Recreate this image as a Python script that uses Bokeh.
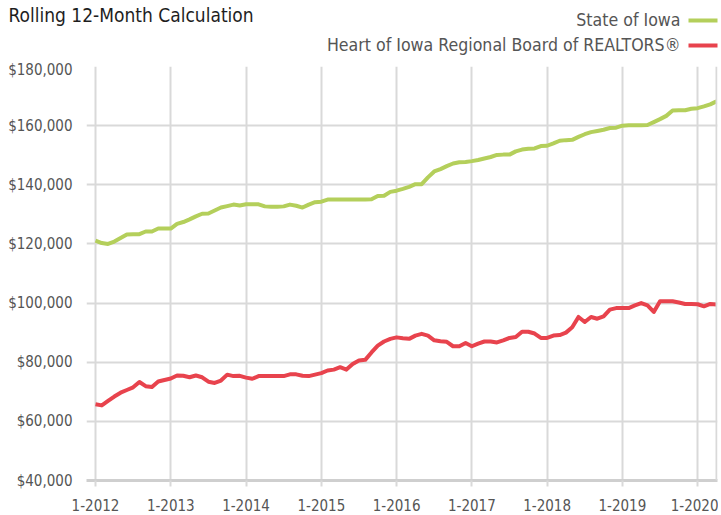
from bokeh.plotting import figure
from bokeh.layouts import column, row
from bokeh.models import FixedTicker, Span, NumeralTickFormatter, Range1d, Label
from bokeh.embed import file_html
from bokeh.resources import INLINE

# ---- data ----
tick_labels = ["1-2012", "1-2013", "1-2014", "1-2015", "1-2016", "1-2017", "1-2018", "1-2019", "1-2020"]
months = list(range(100))  # Jan 2012 .. Apr 2020

state_iowa = [
    121100, 120300, 120000, 120800, 122000, 123200, 123300, 123300, 124200, 124200,
    125200, 125200, 125200, 126800, 127400, 128300, 129300, 130200, 130300, 131300,
    132300, 132800, 133300, 133000, 133400, 133400, 133400, 132700, 132600, 132600,
    132700, 133300, 132900, 132300, 133300, 134100, 134300, 135000, 135000, 135000,
    135000, 135000, 135000, 135000, 135100, 136200, 136300, 137600, 138000, 138600,
    139300, 140200, 140200, 142500, 144500, 145300, 146300, 147200, 147600, 147700,
    148000, 148400, 148900, 149400, 150100, 150200, 150200, 151300, 151900, 152200,
    152300, 153100, 153200, 154000, 154900, 155100, 155200, 156200, 157100, 157800,
    158200, 158600, 159200, 159300, 160000, 160100, 160100, 160100, 160200, 161200,
    162200, 163300, 165100, 165200, 165200, 165700, 165900, 166500, 167200, 168200,
]

heart_of_iowa = [
    65800, 65400, 66900, 68400, 69700, 70600, 71500, 73300, 71900, 71600,
    73500, 74000, 74500, 75500, 75400, 74900, 75500, 74900, 73400, 73000,
    73800, 75800, 75300, 75400, 74800, 74400, 75300, 75300, 75300, 75300,
    75300, 75900, 75900, 75400, 75300, 75800, 76300, 77200, 77500, 78300,
    77500, 79400, 80600, 80800, 83300, 85600, 87000, 87900, 88400, 88100,
    87900, 89000, 89600, 89000, 87400, 87100, 86900, 85400, 85400, 86500,
    85400, 86300, 87000, 87000, 86700, 87400, 88200, 88500, 90300, 90300,
    89700, 88200, 88200, 89000, 89200, 90000, 91800, 95300, 93600, 95300,
    94700, 95500, 97800, 98300, 98300, 98300, 99200, 100000, 99200, 97000,
    100600, 100600, 100600, 100200, 99700, 99700, 99600, 98900, 99700, 99500,
]

series_names = ["State of Iowa", "Heart of Iowa Regional Board of REALTORS®"]
colors = ["#b4cf5b", "#e8434d"]
title_text = "Rolling 12-Month Calculation"

FONT = "DejaVu Sans Condensed"
GRID = "#d9d9d9"
TXT = "#555555"
W = 718
LEFT = 86
RIGHT = 1

# ---- header (title + legend); coordinates in page pixels ----
h = figure(width=W, height=60, output_backend="svg", toolbar_location=None,
           x_range=Range1d(0, W), y_range=Range1d(60, 0),
           min_border=0, min_border_left=0, min_border_right=0,
           min_border_top=0, min_border_bottom=0,
           x_axis_type=None, y_axis_type=None)
h.outline_line_color = None
h.grid.visible = False
h.add_layout(Label(x=8, y=14, text=title_text, text_font=FONT,
                   text_font_size="19px", text_color="#1e1e1e",
                   text_baseline="middle", text_align="left"))
for name, col, ly in zip(series_names, colors, [19.5, 44.5]):
    h.add_layout(Label(x=680, y=ly, text=name, text_font=FONT, text_font_size="17.6px",
                       text_color=TXT, text_baseline="middle", text_align="right"))
    h.line(x=[688, 717], y=[ly + 0.5, ly + 0.5], line_color=col, line_width=4)

# ---- main chart ----
p = figure(width=W, height=454, output_backend="svg", toolbar_location=None,
           x_range=Range1d(-1.435, 99.16), y_range=Range1d(40000, 180000),
           min_border_left=LEFT, min_border_right=RIGHT, min_border_top=6, min_border_bottom=34)
p.outline_line_color = None

p.line(months, state_iowa, line_color=colors[0], line_width=4, line_join="round")
p.line(months, heart_of_iowa, line_color=colors[1], line_width=4, line_join="round")

p.xaxis.ticker = FixedTicker(ticks=[12 * i for i in range(len(tick_labels))])
p.xaxis.major_label_overrides = {12 * i: lab for i, lab in enumerate(tick_labels)}
p.xaxis.axis_line_color = "#cfcfcf"
p.xaxis.axis_line_width = 3
p.xaxis.major_tick_line_color = GRID
p.xaxis.major_tick_line_width = 2
p.xaxis.major_tick_out = 6
p.xaxis.major_tick_in = 0
p.xaxis.minor_tick_line_color = None
p.xaxis.major_label_text_font = FONT
p.xaxis.major_label_text_font_size = "15px"
p.xaxis.major_label_text_color = TXT
p.xaxis.major_label_standoff = 12

p.yaxis.ticker = FixedTicker(ticks=list(range(40000, 180001, 20000)))
p.yaxis.formatter = NumeralTickFormatter(format="$0,0")
p.yaxis.axis_line_color = None
p.yaxis.major_tick_line_color = None
p.yaxis.major_tick_out = 0
p.yaxis.major_tick_in = 0
p.yaxis.minor_tick_line_color = None
p.yaxis.major_label_text_font = FONT
p.yaxis.major_label_text_font_size = "15px"
p.yaxis.major_label_text_color = TXT
p.yaxis.major_label_standoff = 14

p.xgrid.ticker = p.xaxis.ticker
p.xgrid.grid_line_color = GRID
p.xgrid.grid_line_width = 2
p.ygrid.grid_line_color = GRID
p.ygrid.grid_line_width = 2

p.add_layout(Span(location=99, dimension="height", line_color=GRID, line_width=2))

open("out.html", "w").write(file_html(column(row(h), p, spacing=0), INLINE))
